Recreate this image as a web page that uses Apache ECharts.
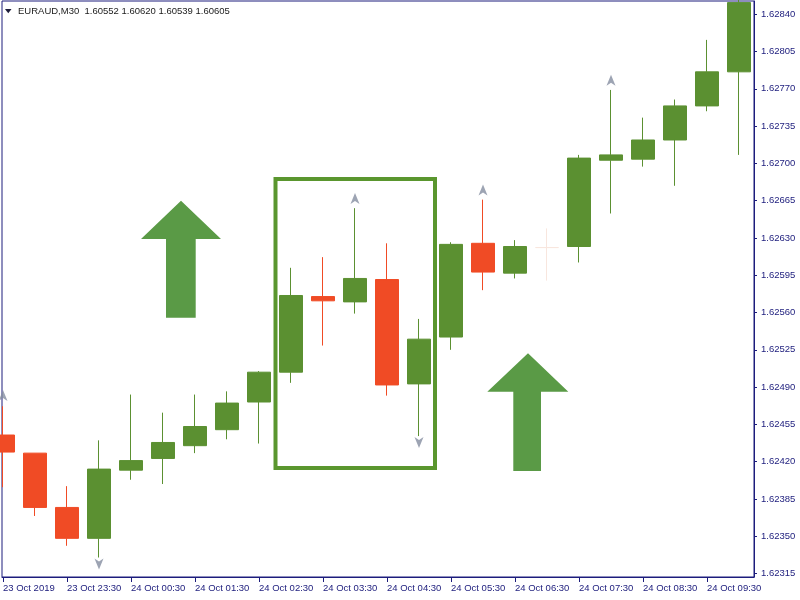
<!DOCTYPE html>
<html><head><meta charset="utf-8">
<script src="https://cdn.jsdelivr.net/npm/echarts@6/dist/echarts.min.js"></script>
<style>html,body{margin:0;padding:0;background:#fff}#c{width:800px;height:600px}</style>
</head><body><div id="c"></div>
<script>
// ---- data (M30 candles, EURAUD) ----
const times = ['23 Oct 22:30','23 Oct 23:00','23 Oct 23:30','24 Oct 00:00','24 Oct 00:30','24 Oct 01:00',
  '24 Oct 01:30','24 Oct 02:00','24 Oct 02:30','24 Oct 03:00','24 Oct 03:30','24 Oct 04:00',
  '24 Oct 04:30','24 Oct 05:00','24 Oct 05:30','24 Oct 06:00','24 Oct 06:30','24 Oct 07:00',
  '24 Oct 07:30','24 Oct 08:00','24 Oct 08:30','24 Oct 09:00','24 Oct 09:30','24 Oct 10:00'];
const opens  = [1.62445,1.62428,1.62377,1.62348,1.62412,1.62423,1.62435,1.62450,1.62476,1.62504,1.62575,1.62570,
                1.62591,1.62493,1.62537,1.62625,1.62597,1.62621,1.62622,1.62703,1.62704,1.62722,1.62754,1.62786];
const closes = [1.62429,1.62377,1.62348,1.62413,1.62421,1.62438,1.62453,1.62475,1.62504,1.62576,1.62571,1.62592,
                1.62492,1.62535,1.62624,1.62598,1.62622,1.62621,1.62705,1.62708,1.62722,1.62754,1.62786,1.62851];
const lows   = [1.62396,1.62369,1.62341,1.62330,1.62403,1.62399,1.62428,1.62441,1.62437,1.62494,1.62529,1.62559,
                1.62482,1.62444,1.62525,1.62581,1.62592,1.62590,1.62607,1.62653,1.62697,1.62679,1.62749,1.62708];
const highs  = [1.62472,1.62428,1.62397,1.62440,1.62483,1.62466,1.62483,1.62486,1.62505,1.62602,1.62612,1.62658,
                1.62625,1.62554,1.62626,1.62666,1.62628,1.62639,1.62708,1.62769,1.62743,1.62760,1.62816,1.62858];
const faintIdx = [17];
const fractalUpIdx = [0, 11, 15, 19];
const fractalUpPrice = [1.62482, 1.62667, 1.62675, 1.62778];
const fractalDownIdx = [3, 13];
const fractalDownPrice = [1.62324, 1.62438];
const xTickIdx = [0,2,4,6,8,10,12,14,16,18,20,22];
const xTickLabels = ['23 Oct 2019','23 Oct 23:30','24 Oct 00:30','24 Oct 01:30','24 Oct 02:30','24 Oct 03:30',
  '24 Oct 04:30','24 Oct 05:30','24 Oct 06:30','24 Oct 07:30','24 Oct 08:30','24 Oct 09:30'];
const yTicks = [1.62315,1.62350,1.62385,1.62420,1.62455,1.62490,1.62525,1.62560,1.62595,1.62630,1.62665,1.62700,
                1.62735,1.62770,1.62805,1.62840];
const headerText = 'EURAUD,M30  1.60552 1.60620 1.60539 1.60605';

// ---- styling ----
const FONT = '"Liberation Sans", Arial, sans-serif';
const NAVY = '#1c1c7c';
const GREEN = '#5b9031';
const RED = '#f04b25';
const FAINT = '#f8e6de';

const candleData = times.map((t, i) => {
  const item = { value: [i, opens[i], closes[i], lows[i], highs[i]] };
  if (faintIdx.includes(i)) {
    item.itemStyle = { color: FAINT, color0: FAINT, borderColor: FAINT, borderColor0: FAINT, borderColorDoji: FAINT };
  }
  return item;
});
const upData = fractalUpIdx.map((x, i) => [x, fractalUpPrice[i]]);
const downData = fractalDownIdx.map((x, i) => [x, fractalDownPrice[i]]);
const arrowPath = 'path://M5,0 L10,11 L5,8 L0,11 Z';

const chart = echarts.init(document.getElementById('c'));
chart.setOption({
  animation: false,
  grid: { left: 2, right: 46, top: 1, bottom: 23, show: true, borderColor: NAVY, borderWidth: 1, backgroundColor: '#fff' },
  xAxis: {
    type: 'value', min: -1/32, max: -1/32 + 752/32,
    axisLine: { show: true, onZero: false, lineStyle: { color: NAVY, width: 1 } },
    axisTick: { show: true, length: 5, customValues: xTickIdx, lineStyle: { color: NAVY } },
    axisLabel: {
      customValues: xTickIdx,
      formatter: v => xTickLabels[xTickIdx.indexOf(Math.round(v))] || '',
      align: 'left', margin: 6, color: NAVY, fontFamily: FONT, fontSize: 9.5
    },
    splitLine: { show: false }
  },
  yAxis: {
    type: 'value', position: 'right', scale: true, min: 1.623117, max: 1.628525,
    axisLine: { show: true, onZero: false, lineStyle: { color: NAVY, width: 1 } },
    axisTick: { show: true, length: 3, customValues: yTicks, lineStyle: { color: NAVY } },
    axisLabel: {
      customValues: yTicks, formatter: v => v.toFixed(5),
      margin: 7, color: NAVY, fontFamily: FONT, fontSize: 9.5
    },
    splitLine: { show: false }
  },
  series: [
    {
      type: 'candlestick', clip: true, barWidth: 24,
      dimensions: ['idx', 'open', 'close', 'lowest', 'highest'],
      encode: { x: 'idx', y: ['open', 'close', 'lowest', 'highest'] },
      itemStyle: { color: GREEN, color0: RED, borderColor: GREEN, borderColor0: RED, borderWidth: 1 },
      emphasis: { disabled: true },
      data: candleData
    },
    {
      type: 'scatter', clip: true, symbol: arrowPath, symbolSize: [9, 11], symbolKeepAspect: false,
      itemStyle: { color: '#858da0' }, emphasis: { disabled: true }, data: upData
    },
    {
      type: 'scatter', clip: true, symbol: arrowPath, symbolSize: [9, 11], symbolRotate: 180,
      itemStyle: { color: '#858da0' }, emphasis: { disabled: true }, data: downData
    }
  ],
  graphic: [
    { type: 'polygon', shape: { points: [[5, 9], [11.5, 9], [8.25, 13.3]] }, style: { fill: '#1d1d3a' }, z: 100 },
    { type: 'text', x: 18, y: 11, style: { text: headerText, fill: '#1a1a1a', font: '9.5px ' + FONT, verticalAlign: 'middle' }, z: 100 },
    { type: 'rect', shape: { x: 275.5, y: 179, width: 159.5, height: 289 }, style: { fill: 'none', stroke: '#5a962e', lineWidth: 4 }, z: 50 },
    { type: 'polygon', shape: { points: [[181, 200.7], [221, 239], [195.7, 239], [195.7, 317.7], [166, 317.7], [166, 239], [141, 239]] }, style: { fill: '#5a9a46' }, z: 50 },
    { type: 'polygon', shape: { points: [[528, 353.3], [568.3, 391.7], [541, 391.7], [541, 471], [513.3, 471], [513.3, 391.7], [487.3, 391.7]] }, style: { fill: '#5a9a46' }, z: 50 }
  ]
});
</script></body></html>
